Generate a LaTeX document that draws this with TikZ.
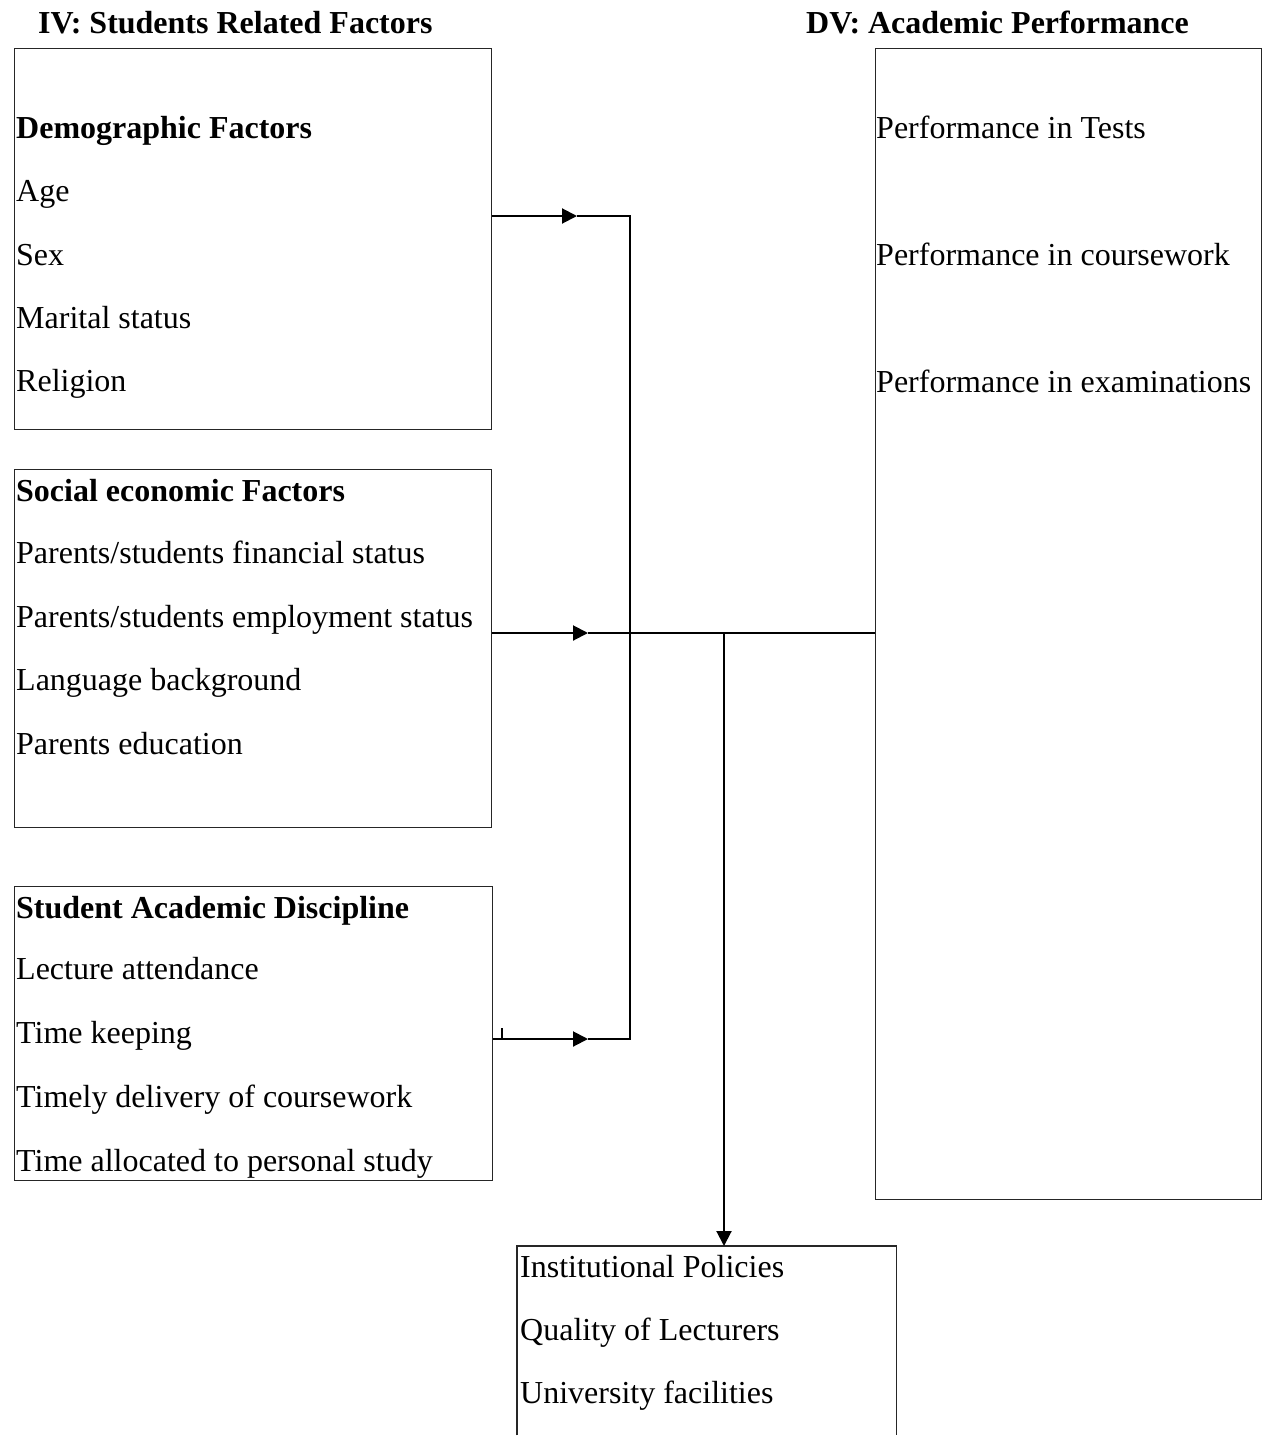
\documentclass[tikz,border=0pt]{standalone}
\usepackage{fontspec}
\setmainfont{Liberation Serif}
\usetikzlibrary{arrows.meta}
\begin{document}
\begin{tikzpicture}[x=1pt,y=-1pt,
 box/.style={draw=black!85, line width=1.3pt, anchor=north west, inner sep=0pt},
 txt/.style={anchor=base west, inner sep=0pt, font=\fontsize{32}{38}\selectfont},
 hd/.style={anchor=base west, inner sep=0pt, font=\fontsize{32}{38}\selectfont\bfseries},
 conn/.style={line width=2pt},
 tip/.style={-{Triangle[length=15pt,width=15pt]}}]
\useasboundingbox (0,0) rectangle (1264,1443);

% titles
\node[hd] (t1) at (38,33) {IV: Students Related Factors};
\node[hd] (t2) at (806,33) {DV: Academic Performance};

% boxes
\node[box, minimum width=477pt, minimum height=381pt] (b1) at (14,48) {};
\node[box, minimum width=477pt, minimum height=358pt] (b2) at (14,469) {};
\node[box, minimum width=478pt, minimum height=294pt] (b3) at (14,886) {};
\node[box, minimum width=386pt, minimum height=1151pt] (b4) at (875,48) {};
\node[anchor=north west, inner sep=0pt, minimum width=379pt, minimum height=189pt] (b5) at (517,1246) {};
\draw[draw=black!85, line width=1.3pt] (b5.south west) -- (b5.north west) -- (b5.north east) -- (b5.south east);

% box 1 text
\node[hd]  (d0) at (16,138) {Demographic Factors};
\node[txt] (d1) at (16,201) {Age};
\node[txt] (d2) at (16,265) {Sex};
\node[txt] (d3) at (16,328) {Marital status};
\node[txt] (d4) at (16,391) {Religion};

% box 2 text
\node[hd]  (s0) at (16,501) {Social economic Factors};
\node[txt] (s1) at (16,563) {Parents/students financial status};
\node[txt] (s2) at (16,627) {Parents/students employment status};
\node[txt] (s3) at (16,690) {Language background};
\node[txt] (s4) at (16,754) {Parents education};

% box 3 text
\node[hd]  (a0) at (16,918) {Student Academic Discipline};
\node[txt] (a1) at (16,979) {Lecture attendance};
\node[txt] (a2) at (16,1043) {Time keeping};
\node[txt] (a3) at (16,1107) {Timely delivery of coursework};
\node[txt] (a4) at (16,1171) {Time allocated to personal study};

% right box text
\node[txt] (p1) at (876,138) {Performance in Tests};
\node[txt] (p2) at (876,265) {Performance in coursework};
\node[txt] (p3) at (876,392) {Performance in examinations};

% bottom box text
\node[txt] (i1) at (520,1277) {Institutional Policies};
\node[txt] (i2) at (520,1340) {Quality of Lecturers};
\node[txt] (i3) at (520,1403) {University facilities};

% connectors
\coordinate (m1) at (577,216);
\coordinate (j1) at (630,216);
\coordinate (m3) at (588,1039);
\coordinate (j3) at (630,1039);
\coordinate (m2) at (588,633);
\coordinate (j2) at (724,633);
\coordinate (k1) at (502,1028);

\draw[conn,tip] (b1.east |- m1) -- (m1);
\draw[conn] (m1) -- (j1) -- (j3) -- (m3);
\draw[conn,tip] (b3.east |- m3) -- (m3);
\draw[line width=1.3pt] (k1) -- (k1 |- m3);
\draw[conn,tip] (b2.east |- m2) -- (m2);
\draw[conn] (m2) -- (b4.west |- m2);
\draw[conn,tip] (j2) -- (b5.north -| j2);
\end{tikzpicture}
\end{document}
